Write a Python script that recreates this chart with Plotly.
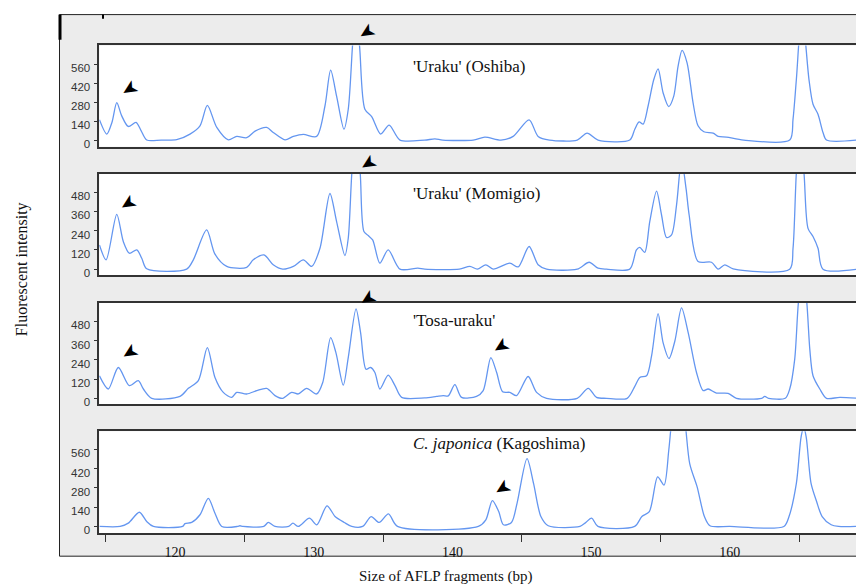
import plotly.graph_objects as go

# ---------------- data (bp, fluorescent intensity) ----------------
bp_oshiba = [114.55,115.08,115.45,115.80,116.15,116.63,117.19,117.55,117.96,119.0,120.12,121.08,121.80,122.33,123.01,123.84,124.45,125.17,125.77,126.61,127.08,127.93,128.53,129.25,130.21,130.81,131.22,131.65,132.18,132.49,132.8,133.0,133.3,133.69,134.18,134.83,135.44,136.22,138.0,138.74,139.3,141.5,142.34,143.5,144.38,145.53,146.18,147.0,149.0,149.71,150.5,152.79,153.15,153.46,153.75,154.11,154.52,154.83,155.19,155.60,155.96,156.27,156.56,156.92,157.35,157.71,158.13,158.80,159.16,159.76,161.0,164.32,164.56,164.80,165.2,165.71,166.00,166.36,166.72,166.97,169.2]
int_oshiba = [150,44,130,276,180,100,130,70,0,0,3,44,105,256,93,2,27,17,66,93,56,2,27,42,27,251,515,324,80,227,700,950,700,227,173,44,110,0,0,8,0,0,22,0,27,149,27,0,0,51,0,0,80,134,117,251,446,525,349,247,324,544,661,569,276,105,61,51,27,22,0,0,154,446,950,446,264,190,56,0,0]

bp_momigio = [114.55,115.03,115.80,116.27,116.71,117.24,117.60,117.96,120.84,121.32,122.28,122.88,123.73,125.17,125.64,126.41,127.08,127.76,128.53,129.25,129.85,130.45,131.17,131.65,132.25,132.49,132.75,133.03,133.35,133.62,133.93,134.25,134.77,135.37,136.22,137.51,138.0,140.5,141.26,141.8,142.41,142.94,144.14,144.74,145.53,146.18,146.79,149.0,149.86,150.50,151.11,152.79,153.27,153.51,153.87,154.23,154.72,155.08,155.44,155.80,156.16,156.52,156.85,157.07,157.71,158.68,159.16,159.64,160.24,164.32,164.56,164.8,165.05,165.35,165.64,166.00,166.36,166.72,169.2]
int_momigio = [150,58,341,172,99,120,68,2,0,58,244,93,17,11,58,89,27,0,17,58,17,130,471,296,85,192,600,850,600,234,209,182,37,120,0,6,0,0,17,0,27,0,37,14,141,27,0,0,43,6,0,0,120,135,105,296,486,337,197,213,399,680,500,337,48,43,0,27,2,0,130,600,850,600,254,203,130,0,0]

bp_tosa = [114.55,115.19,115.91,116.71,117.35,117.72,118.32,120.36,120.96,121.68,122.33,122.88,123.48,124.09,124.45,125.17,125.89,126.61,127.21,127.76,128.41,128.89,129.49,130.21,130.65,131.22,131.60,132.13,132.49,133.05,133.38,133.77,134.10,134.41,134.77,135.37,135.86,136.34,138.0,138.86,139.34,139.7,140.18,140.66,141.74,142.22,142.77,143.19,143.62,144.14,144.63,145.46,146.07,146.79,149.0,149.79,150.39,151.11,152.6,153.15,153.51,154.00,154.36,154.83,155.19,155.62,156.04,156.52,157.00,157.60,158.08,158.44,159.04,159.88,160.48,162.3,162.52,162.8,164.0,164.32,164.68,164.95,165.26,165.55,165.77,166.00,166.49,166.97,167.93,169.2]
int_tosa = [140,58,192,79,110,58,0,12,62,110,316,130,37,6,37,27,48,62,17,0,37,27,62,27,99,378,285,82,254,557,409,181,192,161,58,144,79,6,3,12,17,15,85,6,12,48,254,161,41,37,17,136,37,0,0,62,6,0,0,74,130,141,264,528,347,248,357,563,409,161,48,58,33,31,0,0,12,0,0,58,243,600,800,600,305,141,58,0,6,0]

bp_japonica = [114.55,116.04,116.63,117.43,117.96,118.44,120.55,120.72,121.20,121.80,122.40,122.88,123.37,124.5,124.68,124.9,126.4,126.72,127.21,128.2,128.50,128.89,129.69,130.22,130.96,131.54,132.20,132.74,133.53,134.14,134.72,135.39,136.04,141.87,142.41,142.88,143.34,143.68,144.26,144.66,145.38,145.85,146.38,146.91,149.2,149.56,150.04,150.49,153.14,153.66,154.20,154.80,155.26,155.60,155.85,156.25,156.72,157.11,157.64,158.17,158.57,160.0,163.9,164.27,164.80,165.14,165.33,165.51,165.86,166.26,166.66,167.31,167.84,169.2]
int_japonica = [0,0,24,103,36,0,0,20,29,85,204,96,0,0,5,0,0,29,0,0,24,0,60,12,150,72,29,0,0,72,29,92,0,0,48,188,108,12,29,168,493,313,72,5,0,24,60,0,0,72,108,361,301,554,800,1000,800,457,289,72,5,0,0,72,313,650,720,650,313,181,72,12,0,0]

panel_names = ["'Uraku' (Oshiba)", "'Uraku' (Momigio)", "'Tosa-uraku'", "<i>C. japonica</i> (Kagoshima)"]
panel_bp = [bp_oshiba, bp_momigio, bp_tosa, bp_japonica]
panel_int = [int_oshiba, int_momigio, int_tosa, int_japonica]
y_ranges = [[-49, 698], [-39, 593.5], [-35, 594.5], [-48, 691.5]]
y_ticks = [[0, 140, 280, 420, 560], [0, 120, 240, 360, 480], [0, 120, 240, 360, 480], [0, 140, 280, 420, 560]]

# arrowhead marks (centre position: bp, intensity) per panel
arrow_bp = [[116.74, 133.87], [116.64, 133.99], [116.75, 133.94, 143.5], [143.63]]
arrow_int = [[370, 790], [405, 655], [278, 618, 318], [272]]

x_ticklabels = [120, 130, 140, 150, 160]
x_minor_ticks = [115, 125, 135, 145, 155, 165]

# ---------------- layout geometry (pixels) ----------------
W, H = 856, 586
panel_px = [(45.7, 147.7), (175.0, 277.3), (305.0, 406.7), (434.3, 536.7)]
title_px_y = [67, 195, 323, 447]

def py(y):
    return 1 - y / H

fig = go.Figure()
line_color = '#6496f0'
for i in range(4):
    sfx = '' if i == 0 else str(i + 1)
    fig.add_trace(go.Scatter(
        x=panel_bp[i], y=panel_int[i], mode='lines',
        line=dict(color=line_color, width=1.3, shape='spline', smoothing=0.8),
        xaxis='x' + sfx, yaxis='y' + sfx, showlegend=False, hoverinfo='skip'))

layout = dict(
    width=W, height=H, margin=dict(l=0, r=0, t=0, b=0),
    paper_bgcolor='white', plot_bgcolor='white', showlegend=False,
)
shapes = [
    dict(type='rect', xref='paper', yref='paper', x0=59.5 / W, x1=1.02,
         y0=py(560), y1=py(14.7), fillcolor='#ececec',
         line=dict(color='#222222', width=1), layer='below'),
    dict(type='line', xref='paper', yref='paper', x0=60 / W, x1=60 / W,
         y0=py(40), y1=py(14.7), line=dict(color='black', width=3)),
    dict(type='line', xref='paper', yref='paper', x0=103 / W, x1=103 / W,
         y0=py(19), y1=py(14.7), line=dict(color='black', width=2)),
]
annotations = []
serif = 'Liberation Serif'
for i in range(4):
    sfx = '' if i == 0 else str(i + 1)
    top, bot = panel_px[i]
    xa = dict(domain=[99.3 / W, 1.0], range=[114.54, 169.1], anchor='y' + sfx,
              showline=True, mirror=True, linecolor='#333333', linewidth=1.5,
              showgrid=False, zeroline=False, ticks='', showticklabels=False,
              fixedrange=True)
    if i == 3:
        xa.update(tickmode='array', tickvals=x_ticklabels,
                  ticktext=[str(v) for v in x_ticklabels],
                  showticklabels=True, ticklen=0,
                  tickfont=dict(family=serif, size=14, color='#111111'),
                  ticklabelstandoff=5,
                  minor=dict(tickmode='array', tickvals=x_minor_ticks,
                             ticks='outside', ticklen=7, tickcolor='#333333',
                             tickwidth=1.2, showgrid=False))
    ya = dict(domain=[py(bot), py(top)], range=y_ranges[i], anchor='x' + sfx,
              showline=True, linecolor='#333333', linewidth=1.5,
              showgrid=False, zeroline=False, ticks='outside', ticklen=4,
              tickcolor='#333333', tickvals=y_ticks[i],
              tickfont=dict(family='Liberation Sans', size=11.5, color='#333333'),
              ticklabelshift=4, ticklabelstandoff=1, fixedrange=True)
    layout['xaxis' + sfx] = xa
    layout['yaxis' + sfx] = ya
    shapes.append(dict(type='rect', xref='x' + sfx + ' domain', yref='y' + sfx + ' domain',
                       x0=0, x1=1, y0=0, y1=1, fillcolor='white',
                       line=dict(width=0), layer='below'))
    annotations.append(dict(text=panel_names[i], xref='paper', yref='paper',
                            x=411 / W, y=py(title_px_y[i]), xanchor='left', yanchor='middle',
                            showarrow=False,
                            font=dict(family=serif, size=17, color='#111111')))
    r0, r1 = y_ranges[i]
    for bx, iy in zip(arrow_bp[i], arrow_int[i]):
        annotations.append(dict(text='\u27a4', xref='x' + sfx, yref='y' + sfx + ' domain',
                                x=bx, y=(iy - r0) / (r1 - r0), showarrow=False, textangle=148,
                                xanchor='center', yanchor='middle',
                                font=dict(family='DejaVu Sans', size=20, color='black')))

annotations.append(dict(text='Fluorescent intensity', xref='paper', yref='paper',
                        x=22 / W, y=py(271), textangle=-90, showarrow=False,
                        xanchor='center', yanchor='middle',
                        font=dict(family=serif, size=16, color='#111111')))
annotations.append(dict(text='Size of AFLP fragments (bp)', xref='paper', yref='paper',
                        x=446 / W, y=py(580), showarrow=False,
                        xanchor='center', yanchor='middle',
                        font=dict(family=serif, size=15, color='#111111')))
layout['shapes'] = shapes
layout['annotations'] = annotations
fig.update_layout(**layout)
fig.write_html('out.html', config={'displayModeBar': False},
               post_script="document.body.style.margin='0';document.body.style.overflow='hidden';")
